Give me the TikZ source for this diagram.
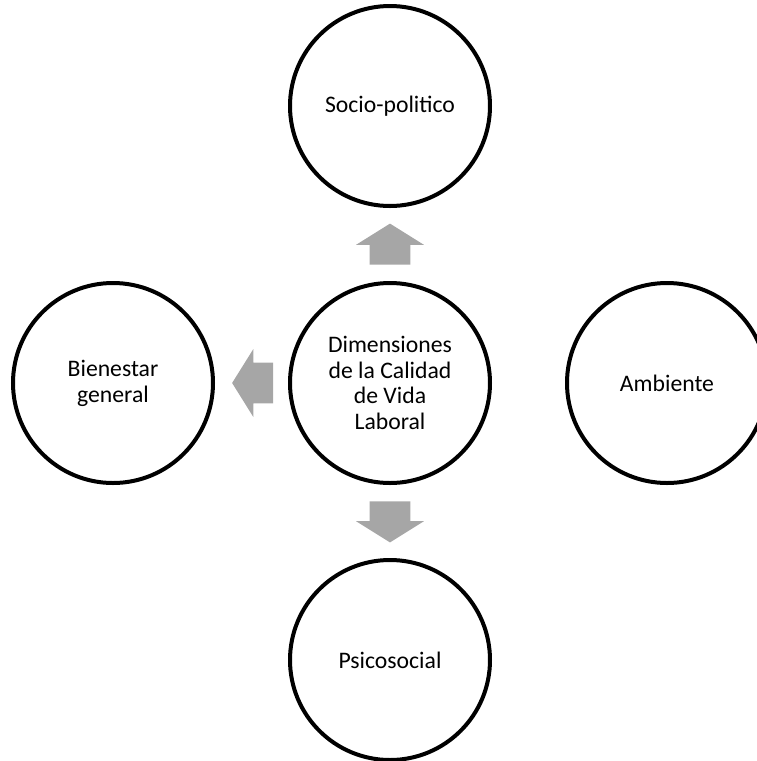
\documentclass[tikz,border=0pt]{standalone}
\usepackage{fontspec}
\setmainfont{Carlito}
\usetikzlibrary{positioning,calc,shapes.arrows}
\definecolor{arrgray}{HTML}{A6A6A6}

\begin{document}
\begin{tikzpicture}[
  x=0.5pt, y=0.5pt,
  font=\fontsize{11.85}{12.9}\selectfont,
  dim/.style={draw, circle, line width=2pt, minimum size=100pt, inner sep=0pt, outer sep=0pt, align=center},
  blk/.style={single arrow, fill=arrgray, draw=none, inner sep=0pt, minimum height=20.5pt, anchor=tail,
    single arrow head extend=6.75pt, single arrow tip angle=116},
  node distance=38.5pt
]
\useasboundingbox (0,0) rectangle (756,-761);
\node[dim] (c) at (390,-383) {Dimensiones\\de la Calidad\\de Vida\\Laboral};
\node[dim, above=of c] (sp) {Socio-politico};
\node[dim, left=of c] (bg) {Bienestar\\general};
\node[dim, right=of c] (amb) {Ambiente};
\node[dim, below=of c] (ps) {Psicosocial};
% block arrows
\node[blk, shape border rotate=90] (aup) at ($(c.north)!0.5!(sp.south)+(0,-20.5)$) {\hspace*{20pt}};
\node[blk, shape border rotate=180] (alt) at ($(c.west)!0.5!(bg.east)+(22,0)$) {\rule{0pt}{20pt}};
\node[blk, shape border rotate=270] (adn) at ($(c.south)!0.5!(ps.north)+(0,20.5)$) {\hspace*{20pt}};
\end{tikzpicture}
\end{document}
